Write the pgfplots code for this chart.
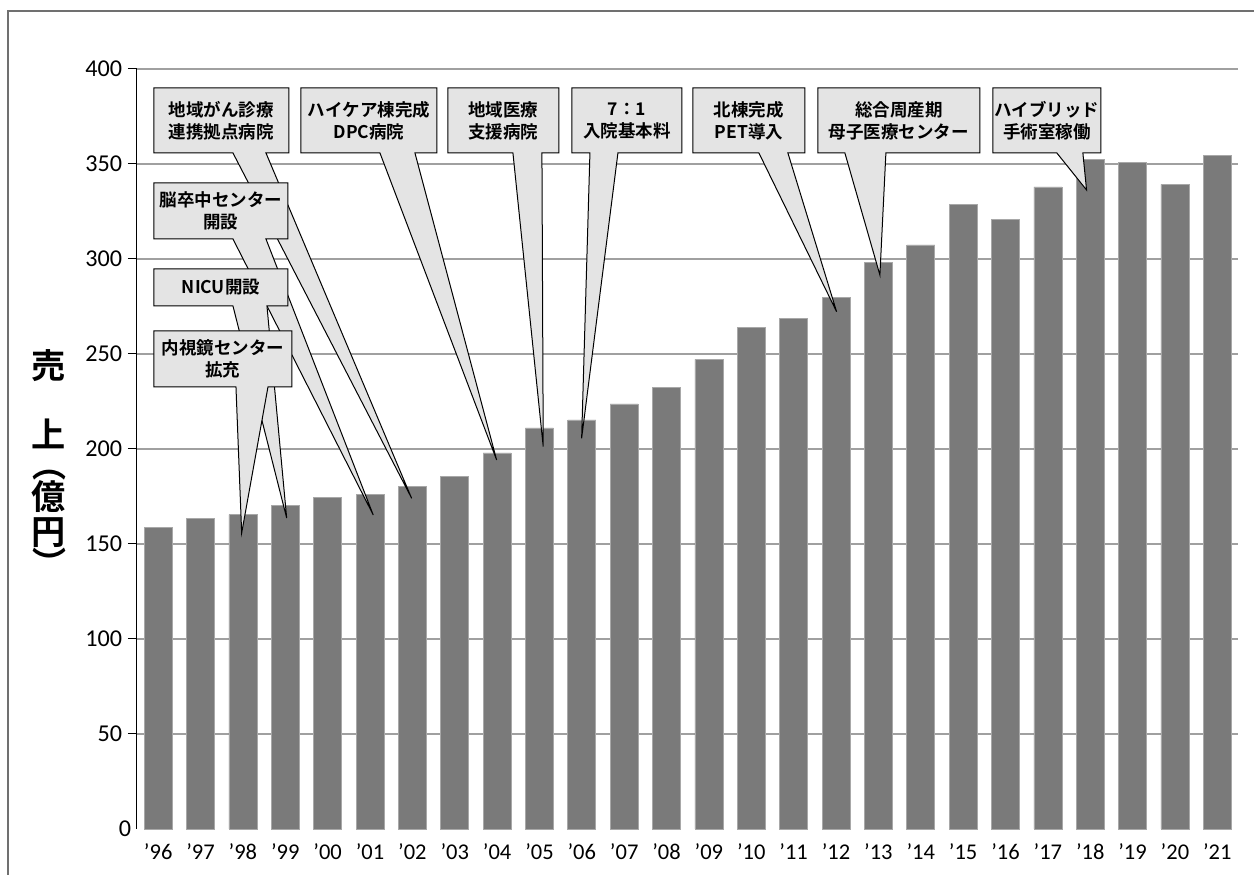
\documentclass[border=0pt]{standalone}
\usepackage{pgfplots}
\pgfplotsset{compat=1.18}
\usepackage{fontspec}
\setmainfont{Carlito}
\newfontfamily\jp{Noto Sans CJK JP}[BoldFont={Noto Sans CJK JP Bold}]
\definecolor{barfill}{HTML}{7A7A7A}
\definecolor{baredge}{HTML}{A8A8A8}
\definecolor{callfill}{HTML}{E4E4E4}
\definecolor{gridc}{HTML}{A0A0A0}
\definecolor{framec}{HTML}{707070}
% pixel -> axis coordinates
\newcommand\X[1]{((#1)-158.2)/42.37}
\newcommand\Y[1]{(829-(#1))/1.9}
% callout: x1 x2 y1 y2 base1 base2 tipx tipy text
\newcommand{\callout}[9]{%
  \draw[fill=callfill, draw=black, line width=0.6pt, line join=miter]
    (axis cs:{\X{#1}},{\Y{#3}}) -- (axis cs:{\X{#2}},{\Y{#3}}) --
    (axis cs:{\X{#2}},{\Y{#4}}) -- (axis cs:{\X{#6}},{\Y{#4}}) --
    (axis cs:{\X{#7}},{\Y{#8}}) -- (axis cs:{\X{#5}},{\Y{#4}}) --
    (axis cs:{\X{#1}},{\Y{#4}}) -- cycle;
  \node[font=\jp\bfseries\fontsize{10.5}{13.2}\selectfont, align=center, inner sep=0pt]
    at (axis cs:{\X{(#1+#2)/2}},{\Y{(#3+#4)/2}}) {#9};
}
\begin{document}
\begin{tikzpicture}
\begin{scope}[x=0.6pt,y=-0.6pt]
  \useasboundingbox (0,0) rectangle (1254,875);
  \draw[framec, line width=1.2pt] (7.5,880) -- (7.5,11) -- (1260,11);
\end{scope}
\begin{axis}[
  at={(82.2pt,-497.4pt)}, anchor=south west,
  scale only axis, width=660.9pt, height=456pt,
  xmin=-0.5, xmax=25.5, ymin=0, ymax=400,
  ybar, bar width=16.8pt, clip=false,
  axis x line*=bottom, axis y line*=left,
  x axis line style={draw=none},
  y axis line style={black, line width=0.6pt},
  xtick={0,...,25},
  xticklabels={’96,’97,’98,’99,’00,’01,’02,’03,’04,’05,’06,’07,’08,’09,’10,’11,’12,’13,’14,’15,’16,’17,’18,’19,’20,’21},
  xtick style={draw=none},
  xticklabel style={font=\fontsize{13.5}{16}\selectfont},
  ytick={50,100,...,400},
  extra y ticks={0},
  extra y tick style={grid=none, major tick length=0pt},
  tick align=outside, major tick length=5.4pt,
  ytick style={black, line width=0.6pt},
  yticklabel style={font=\fontsize{14.5}{16}\selectfont},
  /pgf/number format/assume math mode=true,
  ymajorgrids, grid style={gridc, line width=0.9pt},
]
\addplot[fill=barfill, draw=baredge, line width=0.4pt] coordinates {
 (0,158.6) (1,163.3) (2,165.4) (3,170.2) (4,174.4) (5,176.3) (6,180.5)
 (7,185.4) (8,197.9) (9,211.1) (10,215.3) (11,223.7) (12,232.6) (13,247.2)
 (14,263.9) (15,268.6) (16,279.6) (17,298.4) (18,307.4) (19,328.9)
 (20,320.7) (21,337.9) (22,352.5) (23,351.0) (24,339.3) (25,354.4)
};
\callout{154}{289}{88}{153}{233}{266}{411.7}{498.3}{地域がん診療\\連携拠点病院}
\callout{301}{437}{88}{153}{380}{415}{496.7}{460}{ハイケア棟完成\\DPC病院}
\callout{448}{559}{88}{153}{513}{542}{543.3}{446.7}{地域医療\\支援病院}
\callout{572}{682}{88}{153}{590}{618}{581.7}{438.3}{7：1\\入院基本料}
\callout{693}{805}{88}{153}{759}{788}{836.7}{311.7}{北棟完成\\PET導入}
\callout{818}{980}{88}{153}{845}{886}{880}{275}{総合周産期\\母子医療センター}
\callout{993}{1101}{88}{153}{1057}{1083}{1086.7}{190}{ハイブリッド\\手術室稼働}
\callout{154}{288}{183}{239}{233}{266}{373.3}{515}{脳卒中センター\\開設}
\callout{154}{288}{269}{306}{233}{267}{286.7}{518}{NICU開設}
\callout{154}{292}{331}{387}{236}{268}{241.7}{533}{内視鏡センター\\拡充}
\end{axis}
\begin{scope}[x=0.6pt,y=-0.6pt, every node/.style={font=\jp\bfseries\fontsize{20.5}{20.5}\selectfont, inner sep=0pt}]
  \node at (49,366) {売};
  \node at (49,434) {上};
  \node[rotate=-90] at (49,464.5) {（};
  \node at (49,497) {億};
  \node at (49,533) {円};
  \node[rotate=-90] at (49,563.5) {）};
\end{scope}
\end{tikzpicture}
\end{document}
